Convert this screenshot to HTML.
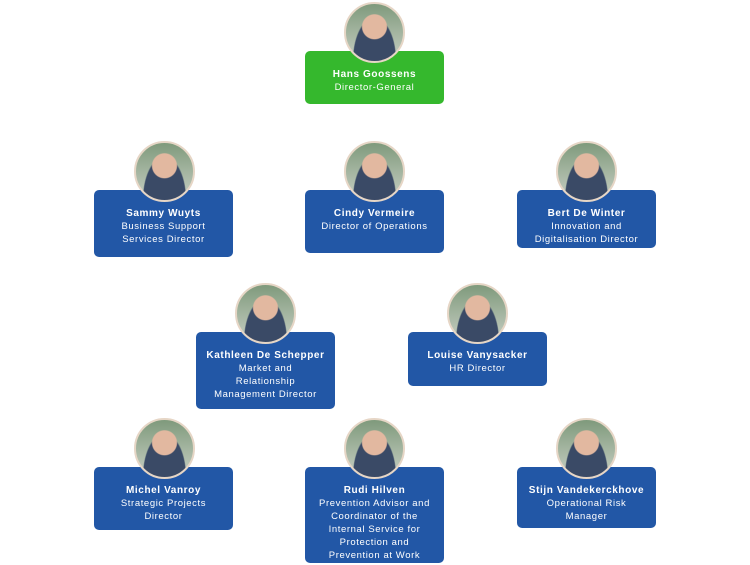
<!DOCTYPE html><html><head><style>
body{margin:0;width:750px;height:565px;background:#fff;position:relative;font-family:"Liberation Sans",sans-serif;overflow:hidden}
.b{position:absolute;width:139px;border-radius:5px;background:#2257a6;color:#fff;text-align:center;font-size:9.5px;line-height:13px;letter-spacing:.6px;padding-top:17px;box-sizing:border-box}
.b b{display:block;font-size:10px}
.g{background:#35b82d}
.c{position:absolute;width:61px;height:61px;border-radius:50%;border:2px solid #e6d6c6;background:radial-gradient(circle at 50% 40%,#e2b8a0 0 12px,transparent 13px),radial-gradient(ellipse at 50% 100%,#3a4a66 0 21px,transparent 22px),linear-gradient(#7f9a7c,#c8cfc4);box-sizing:border-box}
</style></head><body>
<div class="b g" style="left:305px;top:51px;height:53px"><b>Hans Goossens</b>Director-General</div>
<div class="c" style="left:344px;top:2px"></div>

<div class="b" style="left:94px;top:190px;height:67px"><b>Sammy Wuyts</b>Business Support<br>Services Director</div>
<div class="c" style="left:134px;top:141px"></div>
<div class="b" style="left:305px;top:190px;height:63px"><b>Cindy Vermeire</b>Director of Operations</div>
<div class="c" style="left:344px;top:141px"></div>
<div class="b" style="left:517px;top:190px;height:58px"><b>Bert De Winter</b>Innovation and<br>Digitalisation Director</div>
<div class="c" style="left:556px;top:141px"></div>

<div class="b" style="left:196px;top:332px;height:77px"><b>Kathleen De Schepper</b>Market and<br>Relationship<br>Management Director</div>
<div class="c" style="left:235px;top:283px"></div>
<div class="b" style="left:408px;top:332px;height:54px"><b>Louise Vanysacker</b>HR Director</div>
<div class="c" style="left:447px;top:283px"></div>

<div class="b" style="left:94px;top:467px;height:63px"><b>Michel Vanroy</b>Strategic Projects<br>Director</div>
<div class="c" style="left:134px;top:418px"></div>
<div class="b" style="left:305px;top:467px;height:96px"><b>Rudi Hilven</b>Prevention Advisor and<br>Coordinator of the<br>Internal Service for<br>Protection and<br>Prevention at Work</div>
<div class="c" style="left:344px;top:418px"></div>
<div class="b" style="left:517px;top:467px;height:61px"><b>Stijn Vandekerckhove</b>Operational Risk<br>Manager</div>
<div class="c" style="left:556px;top:418px"></div>
</body></html>
